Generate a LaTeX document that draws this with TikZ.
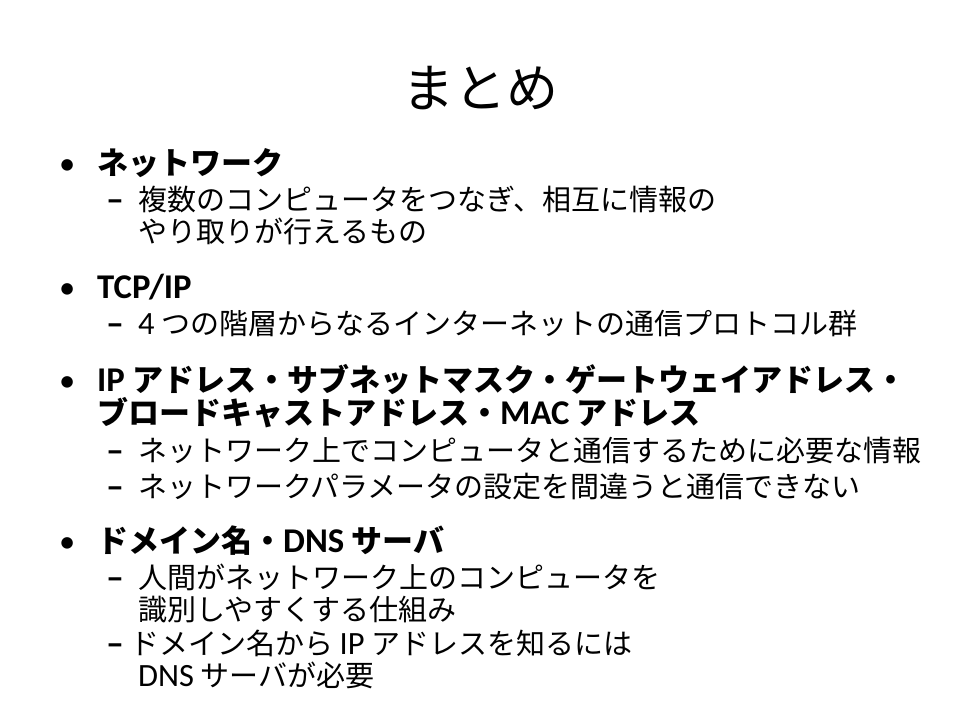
\documentclass[tikz,border=0pt]{standalone}
\usepackage{fontspec}
\setmainfont{Noto Sans CJK JP}
\newfontfamily\lat[Scale=1.12]{Carlito}

\tikzset{
  title/.style={inner sep=0pt, font=\fontsize{52}{60}\selectfont},
  head/.style={anchor=base west, inner sep=0pt, font=\fontsize{31}{36}\selectfont\bfseries},
  item/.style={anchor=base west, inner sep=0pt, font=\fontsize{29}{34}\selectfont},
  dotmark/.style={anchor=base west, inner sep=0pt, font=\lat\fontsize{29}{36}\selectfont},
  dashmark/.style={anchor=base west, inner sep=0pt, font=\lat\fontsize{32}{34}\selectfont\bfseries}
}

\begin{document}
\begin{tikzpicture}[x=1pt, y=-1pt]
  \useasboundingbox (0,0) rectangle (960,720);
  \node[title] (title) at (480,88) {まとめ};

  % bullets and dashes
  \foreach \y/\n in {174/1, 298/2, 391/3, 552/4}
    \node[dotmark] (dot\n) at (59,\y) {•};
  \foreach \y/\n in {211/1, 335/2, 462/3, 498/4, 589/5, 655/6}
    \node[dashmark] (dash\n) at (106,\y) {–};

  % network
  \node[head] (net) at (97,174) {ネットワーク};
  \node[item] (net1) at (138,210) {複数のコンピュータをつなぎ、相互に情報の};
  \node[item] (net1b) at (138,242) {やり取りが行えるもの};

  % tcp/ip
  \node[head] (tcp) at (97,298) {{\lat TCP/IP}};
  \node[item] (tcp1) at (138,334) {{\lat 4} つの階層からなるインターネットの通信プロトコル群};

  % addresses
  \node[head] (addr) at (97,391) {{\lat IP} アドレス・サブネットマスク・ゲートウェイアドレス・};
  \node[head] (addrb) at (97,424) {ブロードキャストアドレス・{\lat MAC} アドレス};
  \node[item] (addr1) at (138,461) {ネットワーク上でコンピュータと通信するために必要な情報};
  \node[item] (addr2) at (138,497) {ネットワークパラメータの設定を間違うと通信できない};

  % dns
  \node[head] (dns) at (97,552) {ドメイン名・{\lat DNS} サーバ};
  \node[item] (dns1) at (138,588) {人間がネットワーク上のコンピュータを};
  \node[item] (dns1b) at (138,620) {識別しやすくする仕組み};
  \node[item] (dns2) at (130,654) {ドメイン名から {\lat IP} アドレスを知るには};
  \node[item] (dns2b) at (138,686) {{\lat DNS} サーバが必要};
\end{tikzpicture}
\end{document}
